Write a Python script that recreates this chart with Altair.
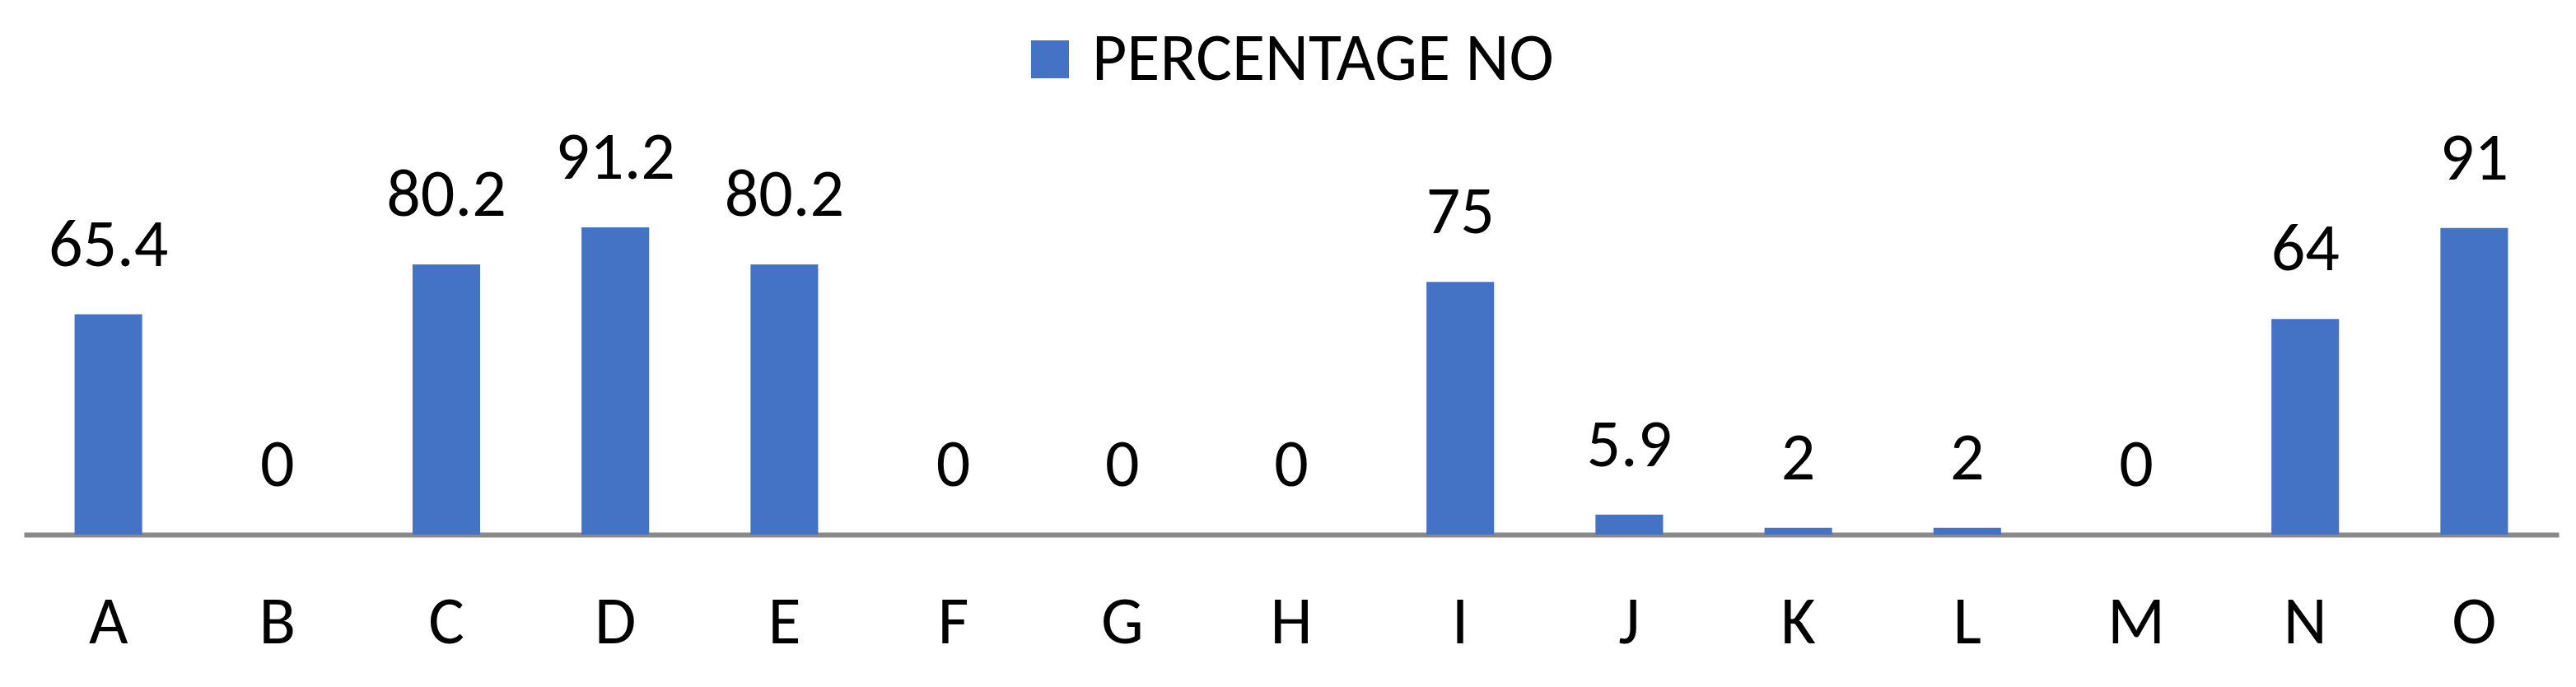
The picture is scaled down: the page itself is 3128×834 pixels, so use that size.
import altair as alt
import pandas as pd

categories = ["A", "B", "C", "D", "E", "F", "G", "H", "I", "J", "K", "L", "M", "N", "O"]
values = [65.4, 0, 80.2, 91.2, 80.2, 0, 0, 0, 75, 5.9, 2, 2, 0, 64, 91]
labels = ["65.4", "0", "80.2", "91.2", "80.2", "0", "0", "0", "75", "5.9", "2", "2", "0", "64", "91"]
series_name = "PERCENTAGE NO"

df = pd.DataFrame({"cat": categories, "val": values, "lab": labels, "series": series_name})

FONT = "Carlito, Open Sans"

x = alt.X("cat:N", sort=categories,
          scale=alt.Scale(paddingInner=0.6, paddingOuter=0.3),
          axis=alt.Axis(title=None, ticks=False, labelAngle=0, labelFontSize=82,
                        labelFont=FONT, labelColor="#000000", labelPadding=66,
                        domainColor="#898989", domainWidth=6, grid=False))
y = alt.Y("val:Q", scale=alt.Scale(domain=[0, 100], nice=False), axis=None)

bars = alt.Chart(df).mark_bar().encode(
    x=x, y=y,
    color=alt.Color("series:N", scale=alt.Scale(range=["#4472C4"]),
                    legend=alt.Legend(title=None, orient="none", legendX=1205, legendY=-209,
                                      symbolType="square", symbolSize=2116, symbolStrokeWidth=0,
                                      labelFontSize=82, labelFont=FONT, labelColor="#000000",
                                      labelOffset=10, padding=0, labelLimit=2000))
)

text = alt.Chart(df).mark_text(baseline="alphabetic", dy=-59, fontSize=82, font=FONT, color="#000000").encode(
    x=alt.X("cat:N", sort=categories), y=y, text="lab:N"
)

chart = (bars + text).properties(
    width=3078, height=409,
    autosize=alt.AutoSizeParams(type="none"),
    padding={"left": 21, "top": 232, "right": 10, "bottom": 177},
).configure_view(stroke=None)

chart.save("out.html", embed_options={"renderer": "svg", "actions": False})
